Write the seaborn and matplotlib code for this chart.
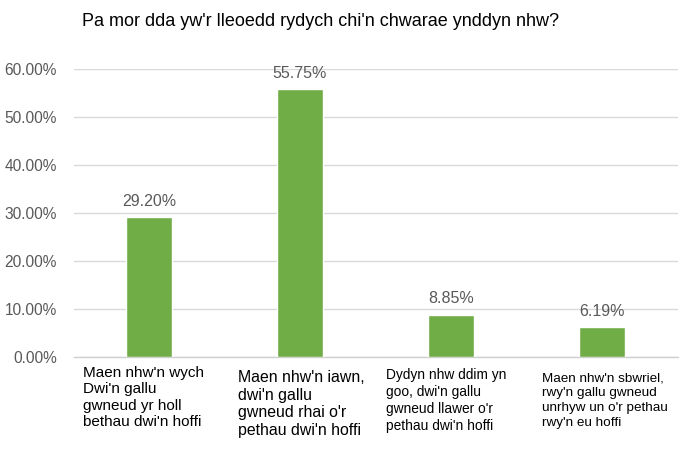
import numpy as np
import pandas as pd
import matplotlib
matplotlib.use("Agg")
import matplotlib.pyplot as plt
import matplotlib.transforms as mtrans
import seaborn as sns

# data
title = "Pa mor dda yw'r lleoedd rydych chi'n chwarae ynddyn nhw?"
categories = [
    "Maen nhw'n wych\nDwi'n gallu\ngwneud yr holl\nbethau dwi'n hoffi",
    "Maen nhw'n iawn,\ndwi'n gallu\ngwneud rhai o'r\npethau dwi'n hoffi",
    "Dydyn nhw ddim yn\ngoo, dwi'n gallu\ngwneud llawer o'r\npethau dwi'n hoffi",
    "Maen nhw'n sbwriel,\nrwy'n gallu gwneud\nunrhyw un o'r pethau\nrwy'n eu hoffi",
]
percent = [29.20, 55.75, 8.85, 6.19]
yticks = [0, 10, 20, 30, 40, 50, 60]

df = pd.DataFrame({"cat": categories, "pct": percent})

sns.set_style("white")
plt.rcParams['font.family'] = ['Liberation Sans', 'DejaVu Sans']

fig = plt.figure(figsize=(6.98, 4.54), dpi=100)
ax = fig.add_axes([73.5 / 698, 97 / 454, 604 / 698, 288 / 454])

sns.barplot(data=df, x="cat", y="pct", order=categories, color="#70AD47",
            saturation=1, width=0.31, ax=ax, zorder=3)

ax.set_ylim(0, 60)
ax.set_xlim(-0.5, 3.5)
ax.set_yticks(yticks)
ax.set_yticklabels([f"{v:.2f}%" for v in yticks], color="#595959", fontsize=11.2)
ax.tick_params(axis="y", length=0, pad=12)
ax.yaxis.grid(True, color="#d9d9d9", lw=1, zorder=0)
ax.set_axisbelow(True)
for s in ["top", "right", "left"]:
    ax.spines[s].set_visible(False)
ax.spines["bottom"].set_color("#d0d0d0")
ax.spines["bottom"].set_linewidth(1)
ax.set_xlabel("")
ax.set_ylabel("")
ax.set_xticks(range(len(categories)))
ax.set_xticklabels([""] * len(categories))
ax.tick_params(axis="x", length=0)

ax.bar_label(ax.containers[0], labels=[f"{v:.2f}%" for v in percent],
             padding=6, color="#595959", fontsize=11.5)

# category labels, left aligned under each bar like the original
trans = mtrans.blended_transform_factory(ax.transData, ax.transAxes)
offs = [-0.44, -0.41, -0.43, -0.40]
tops = [-0.031, -0.045, -0.038, -0.054]
sizes = [11.0, 11.4, 9.9, 9.7]
spacing = [1.22, 1.22, 1.26, 1.3]
for i, lab in enumerate(categories):
    ax.text(i + offs[i], tops[i], lab, transform=trans, ha="left", va="top",
            fontsize=sizes[i], linespacing=spacing[i], color="black")

fig.text(82 / 698, 1 - 22 / 454, title, ha="left", va="center", fontsize=13,
         color="black")

fig.savefig("out.png", dpi=100)
